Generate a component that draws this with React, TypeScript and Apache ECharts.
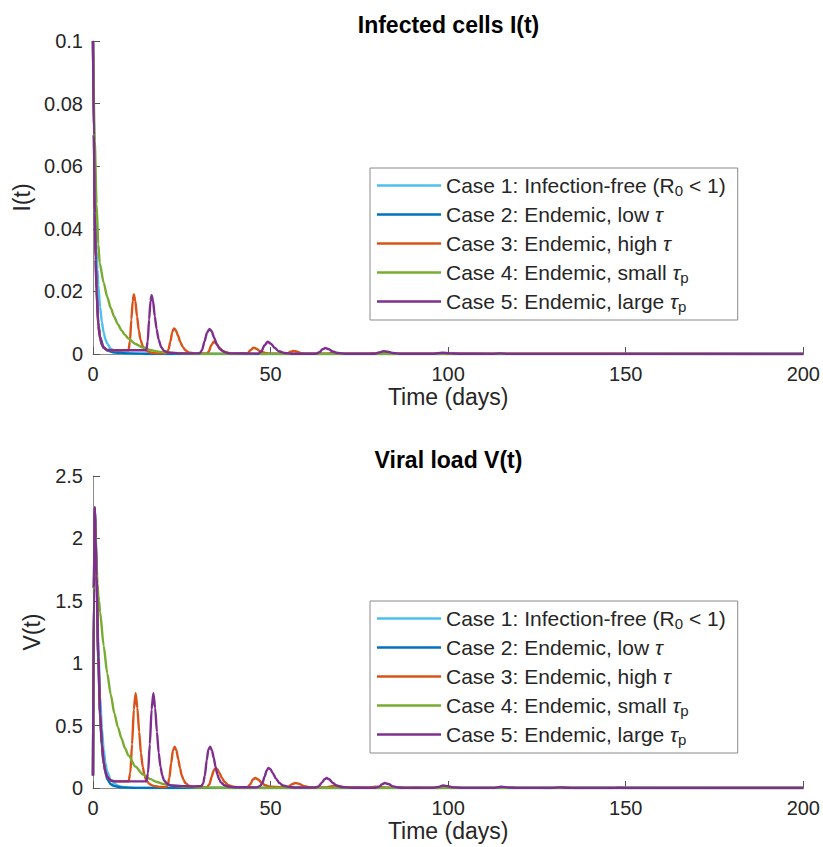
import React, { useEffect, useRef } from "react";
import * as echarts from "echarts";

type Pt = [number, number];

const caseNames = [
  "Case 1: Infection-free (R0 < 1)",
  "Case 2: Endemic, low τ",
  "Case 3: Endemic, high τ",
  "Case 4: Endemic, small τp",
  "Case 5: Endemic, large τp",
];
const caseColors = ["#4DBEEE", "#0072BD", "#D95319", "#77AC30", "#7E2F8E"];

const xTicks = { min: 0, max: 200, interval: 50 };
const iTicks = { min: 0, max: 0.1, interval: 0.02 };
const vTicks = { min: 0, max: 2.5, interval: 0.5 };

// Infected cells I(t)
const I_case1: Pt[] = [[0,0.1],[0.25,0.075],[0.5,0.056],[0.75,0.042],[1,0.033],[1.25,0.027],[1.5,0.022],[2,0.015],[2.5,0.0102],[3,0.0068],[3.5,0.0047],[4,0.0033],[5,0.0017],[6,0.0009],[7,0.0005],[8,0.0003],[10,0.0001],[15,0],[200,0]];
const I_case2: Pt[] = [[0,0.1],[0.25,0.07],[0.5,0.046],[0.75,0.031],[1,0.021],[1.5,0.01],[2,0.0055],[3,0.0022],[4,0.0011],[6,0.0005],[10,0.0002],[20,0],[200,0]];
const I_case3: Pt[] = [[0,0.1],[0.25,0.07],[0.5,0.045],[0.75,0.03],[1,0.02],[1.5,0.009],[2,0.005],[2.5,0.003],[3,0.002],[4,0.0013],[6,0.0012],[10,0.0012],[10.4,0.004],[10.8,0.011],[11.2,0.017],[11.5,0.019],[11.9,0.017],[12.4,0.012],[12.9,0.0075],[13.4,0.0045],[14,0.0025],[15,0.0011],[16.5,0.0004],[18,0.0002],[20.5,0.0002],[21.2,0.0012],[21.8,0.004],[22.3,0.007],[22.8,0.0082],[23.3,0.0077],[23.9,0.006],[24.6,0.0038],[25.3,0.0022],[26,0.0012],[27,0.0005],[28.5,0.0002],[32,0.0001],[32.6,0.0008],[33.3,0.0028],[34,0.0039],[34.7,0.0034],[35.5,0.0021],[36.5,0.001],[38,0.0003],[40,0.0001],[43.5,0.0002],[44.4,0.0013],[45.2,0.002],[46,0.0017],[47,0.0009],[48.5,0.0003],[50,0.0001],[54.8,0.0001],[55.6,0.0007],[56.4,0.001],[57.3,0.0008],[58.5,0.0003],[60,0.0001],[66.2,0.0001],[67.6,0.0005],[69,0.0002],[71,0.0001],[77.5,0.0001],[78.9,0.00025],[80.5,0.0001],[90.2,0.00012],[200,0]];
const I_case4: Pt[] = [[0,0.1],[0.5,0.068],[1,0.048],[1.5,0.035],[1.9,0.029],[3,0.0228],[4,0.0183],[5,0.0147],[6,0.0118],[7,0.0095],[8,0.0076],[9,0.0061],[10,0.0049],[12,0.0032],[14,0.0021],[16,0.0013],[18,0.00085],[20,0.00055],[23,0.0003],[26,0.00015],[30,0.00006],[40,0],[200,0]];
const I_case5: Pt[] = [[0,0.1],[0.25,0.07],[0.5,0.045],[0.75,0.03],[1,0.02],[1.5,0.009],[2,0.005],[2.5,0.003],[3,0.002],[4,0.0013],[8,0.0012],[15,0.0012],[15.4,0.004],[15.8,0.011],[16.2,0.017],[16.5,0.0188],[16.9,0.017],[17.4,0.012],[17.9,0.008],[18.5,0.0045],[19.2,0.0022],[20,0.001],[21,0.0005],[24,0.0002],[30,0.0002],[30.7,0.0012],[31.4,0.004],[32.1,0.0068],[32.8,0.008],[33.4,0.0073],[34.1,0.0052],[34.9,0.003],[35.8,0.0015],[37,0.0006],[38.5,0.0002],[46.5,0.0001],[47.4,0.0008],[48.3,0.0028],[49.2,0.0039],[50.1,0.0033],[51.1,0.002],[52.3,0.0009],[54,0.0003],[56,0.0001],[62.8,0.0001],[63.8,0.0006],[64.6,0.0015],[65.4,0.0019],[66.3,0.0016],[67.5,0.0008],[69,0.0003],[71,0.0001],[79.3,0.0001],[80.5,0.0005],[81.8,0.0009],[83,0.0007],[84.5,0.0003],[86.5,0.0001],[96,0.0001],[98.3,0.0004],[100.5,0.0002],[103,0.0001],[112.5,0.00005],[114.5,0.0002],[117,0.00005],[200,0]];

// Viral load V(t)
const V_case1: Pt[] = [[0,0.1],[0.25,1.6],[0.5,2.25],[0.75,2.1],[1,1.75],[1.5,1.12],[2,0.74],[2.5,0.48],[3,0.31],[3.5,0.2],[4,0.13],[5,0.065],[6,0.035],[7,0.018],[8,0.01],[10,0.003],[12,0.001],[15,0],[200,0]];
const V_case2: Pt[] = [[0,0.1],[0.25,1.6],[0.5,2.24],[0.75,1.98],[1,1.65],[1.5,1.0],[2,0.57],[2.5,0.33],[3,0.19],[4,0.07],[5,0.03],[6,0.015],[8,0.005],[12,0.001],[20,0],[200,0]];
const V_case3: Pt[] = [[0,0.1],[0.25,1.6],[0.5,2.25],[0.75,2.0],[1,1.7],[1.5,1.05],[2,0.6],[2.5,0.35],[3,0.21],[3.5,0.13],[4,0.09],[5,0.06],[6,0.053],[10,0.053],[10.5,0.12],[11,0.35],[11.5,0.63],[12,0.76],[12.5,0.64],[13,0.45],[13.5,0.28],[14,0.17],[14.5,0.1],[15,0.06],[16,0.03],[17,0.017],[19,0.008],[20.5,0.008],[21,0.02],[21.5,0.08],[22,0.2],[22.5,0.3],[23,0.33],[23.5,0.3],[24,0.23],[24.5,0.16],[25,0.1],[25.5,0.065],[26,0.04],[27,0.018],[28,0.01],[30,0.005],[32,0.005],[32.8,0.03],[33.4,0.09],[34,0.14],[34.5,0.16],[35,0.15],[35.6,0.12],[36.3,0.08],[37,0.05],[38,0.025],[39,0.013],[41,0.006],[43.5,0.006],[44.3,0.03],[45,0.068],[45.7,0.08],[46.5,0.068],[47.5,0.042],[48.5,0.022],[50,0.01],[53,0.005],[55,0.01],[56,0.03],[57,0.04],[58,0.033],[59.5,0.015],[61,0.006],[65.5,0.004],[67,0.013],[68.3,0.02],[69.5,0.014],[71,0.005],[77.5,0.003],[78.5,0.007],[79.6,0.01],[81,0.006],[83,0.002],[89.5,0.002],[90.9,0.005],[92.5,0.002],[100.7,0.001],[102.2,0.0025],[104,0.001],[200,0]];
const V_case4: Pt[] = [[0,0.1],[0.25,1.55],[0.5,2.15],[0.75,2.0],[1,1.8],[1.25,1.64],[1.5,1.54],[1.7,1.5],[2,1.41],[3,1.14],[4,0.92],[5,0.75],[6,0.6],[7,0.49],[8,0.4],[9,0.32],[10,0.26],[12,0.17],[14,0.11],[16,0.073],[18,0.048],[20,0.031],[23,0.017],[26,0.009],[30,0.004],[35,0.0015],[40,0.0005],[50,0],[200,0]];
const V_case5: Pt[] = [[0,0.1],[0.25,1.6],[0.5,2.25],[0.75,2.0],[1,1.7],[1.5,1.05],[2,0.6],[2.5,0.35],[3,0.21],[3.5,0.13],[4,0.09],[5,0.06],[6,0.053],[15,0.053],[15.5,0.12],[16,0.35],[16.5,0.63],[17,0.76],[17.5,0.64],[18,0.45],[18.5,0.28],[19,0.17],[19.5,0.1],[20,0.06],[21,0.03],[22,0.02],[25,0.015],[28,0.012],[30.5,0.015],[31,0.035],[31.5,0.1],[32,0.22],[32.5,0.31],[33,0.33],[33.5,0.3],[34,0.24],[34.5,0.17],[35,0.11],[35.5,0.07],[36,0.045],[37,0.022],[38,0.012],[40,0.006],[46,0.005],[47,0.015],[47.7,0.04],[48.3,0.09],[48.9,0.14],[49.4,0.16],[50,0.15],[50.6,0.12],[51.5,0.075],[52.5,0.04],[53.5,0.02],[55,0.009],[57,0.004],[62.5,0.003],[63.5,0.012],[64.5,0.045],[65.2,0.07],[65.8,0.08],[66.5,0.07],[67.5,0.042],[68.5,0.02],[70,0.008],[73,0.002],[79.5,0.002],[80.5,0.01],[81.4,0.03],[82.2,0.04],[83.2,0.032],[84.5,0.013],[86,0.004],[88,0.001],[96,0.001],[97.2,0.008],[98.6,0.02],[100,0.014],[101.5,0.005],[104,0.001],[112.5,0.001],[115,0.01],[117,0.004],[120,0.001],[129,0.0005],[131.4,0.005],[133.5,0.002],[136,0],[146,0],[147.8,0.0025],[150,0.0005],[200,0]];

const iData = [I_case1, I_case2, I_case3, I_case4, I_case5];
const vData = [V_case1, V_case2, V_case3, V_case4, V_case5];

const FONT = '"Liberation Sans", Arial, Helvetica, sans-serif';
const TEXT = "#262626";
const AXIS = "#8c8c8c";

const legendRich: Record<string, string> = {
  [caseNames[0]]: "{n|Case 1: Infection-free (R}{sub|0}{n| < 1)}",
  [caseNames[1]]: "{n|Case 2: Endemic, low }{it|τ}",
  [caseNames[2]]: "{n|Case 3: Endemic, high }{it|τ}",
  [caseNames[3]]: "{n|Case 4: Endemic, small }{it|τ}{sub|p}",
  [caseNames[4]]: "{n|Case 5: Endemic, large }{it|τ}{sub|p}",
};

function fmt(v: number) {
  return String(parseFloat(v.toFixed(4)));
}

function makeX(gridIndex: number) {
  return {
    type: "value",
    gridIndex,
    ...xTicks,
    name: "Time (days)",
    nameLocation: "middle",
    nameGap: 31,
    nameTextStyle: { fontFamily: FONT, fontSize: 23, color: TEXT },
    axisLine: { show: true, onZero: false, lineStyle: { color: AXIS, width: 1 } },
    axisTick: { show: true, inside: true, length: 7, lineStyle: { color: "#555" } },
    axisLabel: { fontFamily: FONT, fontSize: 20, color: TEXT, margin: 10, formatter: fmt },
    splitLine: { show: false },
  };
}

function makeY(gridIndex: number, ticks: any, name: string, gap: number) {
  return {
    type: "value",
    gridIndex,
    ...ticks,
    name,
    nameLocation: "middle",
    nameGap: gap,
    nameTextStyle: { fontFamily: FONT, fontSize: 23, color: TEXT },
    axisLine: { show: true, onZero: false, lineStyle: { color: AXIS, width: 1 } },
    axisTick: { show: true, inside: true, length: 7, lineStyle: { color: "#555" } },
    axisLabel: { fontFamily: FONT, fontSize: 20, color: TEXT, margin: 10, formatter: fmt },
    splitLine: { show: false },
  };
}

function makeLegend(top: number) {
  return {
    orient: "vertical",
    left: 370,
    top,
    data: caseNames.map((name) => ({ name, icon: "rect" })),
    selectedMode: false,
    backgroundColor: "#fff",
    borderColor: "#8a8a8a",
    borderWidth: 1,
    padding: [5, 12, 6, 7],
    itemWidth: 64,
    itemHeight: 2.5,
    itemGap: 4,
    formatter: (name: string) => legendRich[name] || name,
    textStyle: {
      fontFamily: FONT,
      fontSize: 21,
      color: TEXT,
      lineHeight: 25,
      rich: {
        n: { fontFamily: FONT, fontSize: 21, color: TEXT, lineHeight: 25 },
        it: { fontFamily: FONT, fontSize: 21, color: TEXT, fontStyle: "italic", lineHeight: 25 },
        sub: { fontFamily: FONT, fontSize: 15, color: TEXT, lineHeight: 12, verticalAlign: "bottom" },
      },
    },
  };
}

export default function App() {
  const ref = useRef<HTMLDivElement>(null);
  useEffect(() => {
    document.body.style.margin = "0";
    if (!ref.current) return;
    const chart = echarts.init(ref.current, null, { renderer: "svg" });
    const series: any[] = [];
    const mk = (name: string, k: number, axis: number, data: Pt[]) => ({
      type: "line", name, xAxisIndex: axis, yAxisIndex: axis, data,
      symbol: "none", showSymbol: false, smooth: 0.25, smoothMonotone: "x",
      lineStyle: { color: caseColors[k], width: 2.4 }, itemStyle: { color: caseColors[k] },
    });
    caseNames.forEach((name, k) => series.push(mk(name, k, 0, iData[k])));
    caseNames.forEach((name, k) => series.push(mk(name, k, 1, vData[k])));
    chart.setOption({
      animation: false,
      backgroundColor: "#fff",
      grid: [
        { left: 93, top: 41, width: 711, height: 313, containLabel: false },
        { left: 93, top: 476, width: 711, height: 312, containLabel: false },
      ],
      xAxis: [makeX(0), makeX(1)],
      yAxis: [makeY(0, iTicks, "I(t)", 60), makeY(1, vTicks, "V(t)", 50)],
      legend: [makeLegend(168), makeLegend(601)],
      graphic: [
        { type: "text", x: 448.5, y: 25, style: { text: "Infected cells I(t)", fontFamily: FONT, fontSize: 23, fontWeight: "bold", fill: "#000", align: "center", verticalAlign: "middle" } },
        { type: "text", x: 448.5, y: 460, style: { text: "Viral load V(t)", fontFamily: FONT, fontSize: 23, fontWeight: "bold", fill: "#000", align: "center", verticalAlign: "middle" } },
      ],
      series,
    });
    return () => chart.dispose();
  }, []);
  return <div ref={ref} style={{ width: 823, height: 847 }} />;
}
